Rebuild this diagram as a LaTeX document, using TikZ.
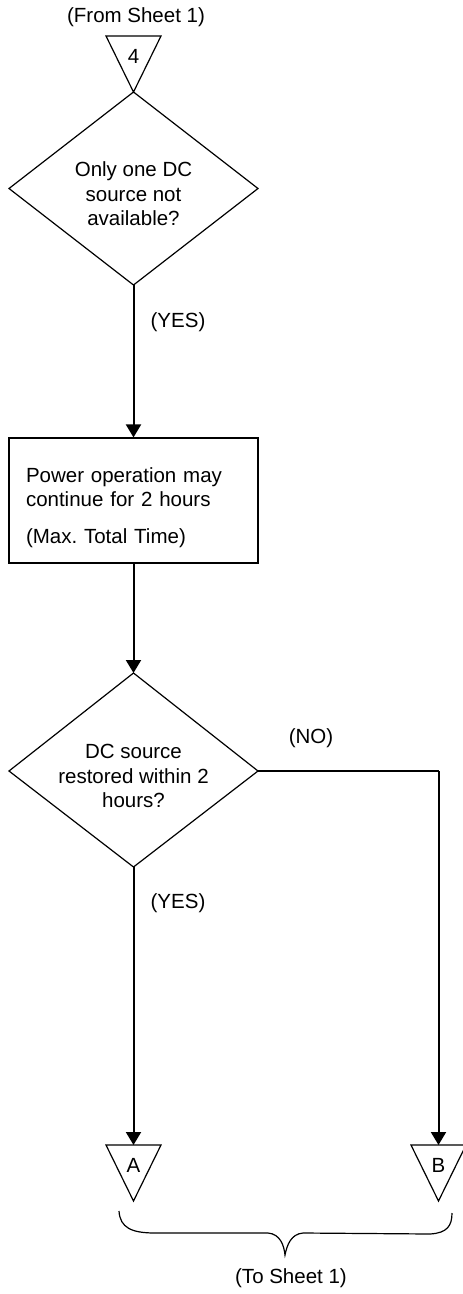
\documentclass[tikz,border=0pt]{standalone}
\usepackage{fontspec}
\setmainfont{Liberation Sans}
\usetikzlibrary{arrows.meta}
\frenchspacing
\begin{document}
\begin{tikzpicture}[x=1pt,y=-1pt,
  every node/.style={font=\fontsize{20.5}{24.5}\selectfont, inner sep=0pt},
  outline/.style={draw=black, line width=1.2pt, line join=miter},
  flow/.style={draw=black, line width=2pt, -{Triangle[width=15pt,length=13pt]}},
  feed/.style={draw=black, line width=1.5pt},
  procbox/.style={draw=black, line width=1.2pt, minimum width=249pt, minimum height=125pt}]
\useasboundingbox (0,0) rectangle (463,1294);

% incoming off-page connector
\node (from) at (136,17) {(From Sheet 1)};
\coordinate (t4L) at (106,36);
\coordinate (t4R) at (161,36);
\coordinate (t4tip) at (133.5,92);
\draw[outline] (t4L) -- (t4R) -- (t4tip) -- cycle;
\node (c4) at (133.5,56) {4};

% first decision
\coordinate (d1n) at (133.5,92);
\coordinate (d1e) at (258,188.5);
\coordinate (d1s) at (133.5,285);
\coordinate (d1w) at (9,188.5);
\draw[outline] (d1n) -- (d1e) -- (d1s) -- (d1w) -- cycle;
\node[align=center] (q1) at (133.5,194) {Only one DC\\source not\\available?};

% process box
\node[procbox] (box) at (133.5,500.5) {};
\node[text width=215pt, align=left] (boxtext) at (133.5,507.5)
  {Power operation may\\continue for 2 hours\\[12pt](Max. Total Time)};
\draw[flow] (d1s) -- (box.north);
\node (yes1) at (178,322) {(YES)};

% second decision
\coordinate (d2n) at (133.5,673);
\coordinate (d2e) at (258,771);
\coordinate (d2s) at (133.5,867);
\coordinate (d2w) at (9,771);
\draw[outline] (d2n) -- (d2e) -- (d2s) -- (d2w) -- cycle;
\node[align=center] (q2) at (133.5,776) {DC source\\restored within 2\\hours?};
\draw[flow] (box.south) -- (d2n);

% outgoing off-page connectors
\coordinate (tAL) at (106,1145);
\coordinate (tAR) at (161,1145);
\coordinate (tAtop) at (133.5,1145);
\coordinate (tAtip) at (133.5,1201);
\draw[outline] (tAL) -- (tAR) -- (tAtip) -- cycle;
\node (cA) at (133.5,1165) {A};

\coordinate (tBL) at (411,1145);
\coordinate (tBR) at (466,1145);
\coordinate (tBtop) at (438.5,1145);
\coordinate (tBtip) at (438.5,1201);
\draw[outline] (tBL) -- (tBR) -- (tBtip) -- cycle;
\node (cB) at (438.5,1165) {B};

% branches
\draw[flow] (d2s) -- (tAtop);
\node (yes2) at (178,903) {(YES)};
\coordinate (corner) at (438.5,771);
\draw[feed] (d2e) -- (corner);
\draw[flow] (corner) -- (tBtop);
\node (no) at (311,738) {(NO)};

% grouping brace
\draw[line width=1.2pt] (119,1211) .. controls (120,1228) and (132,1233) .. (155,1233)
  -- (268,1233) .. controls (280,1234) and (284,1245) .. (285,1255)
  .. controls (287,1245) and (291,1234) .. (303,1233)
  -- (430,1234) .. controls (447,1233) and (452,1226) .. (452,1213);
\node (to) at (291,1278) {(To Sheet 1)};
\end{tikzpicture}
\end{document}
